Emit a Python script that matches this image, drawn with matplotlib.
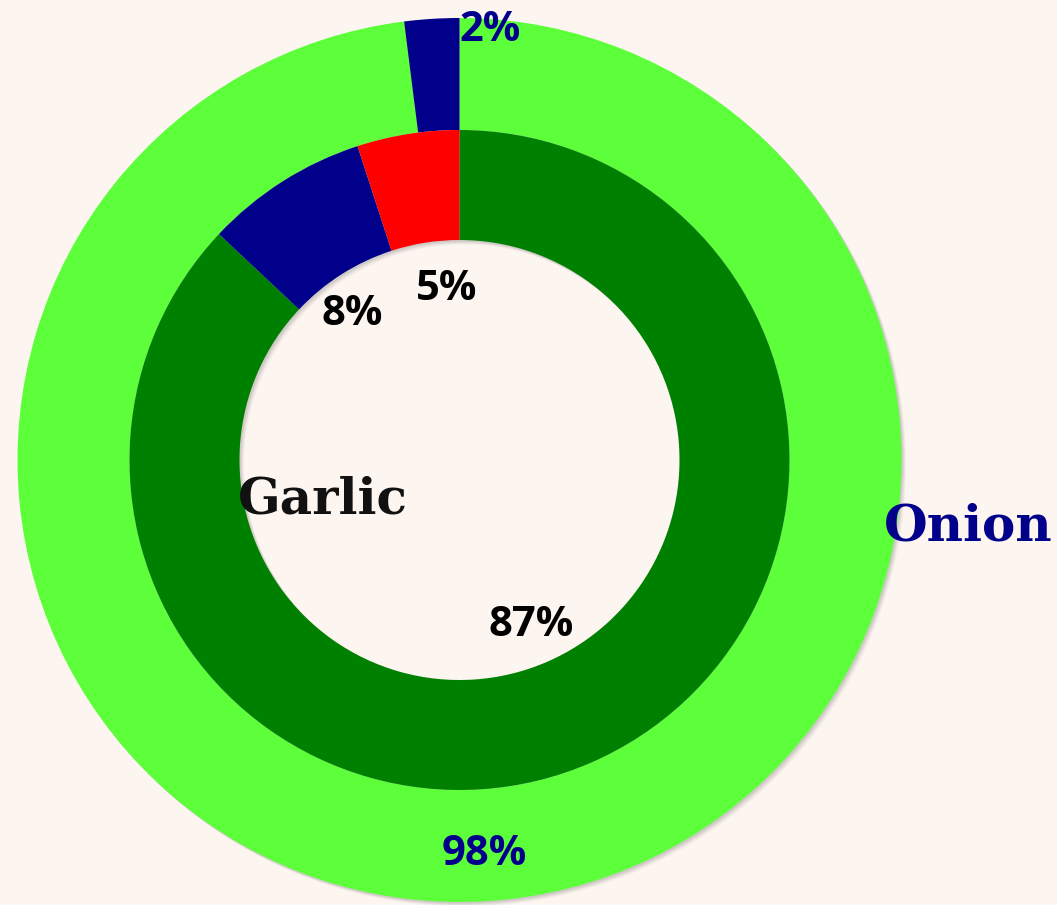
import matplotlib
matplotlib.use("Agg")
import matplotlib.pyplot as plt

# data
garlic_labels = ["Garlic A", "Garlic B", "Garlic C"]
garlic_values = [87, 8, 5]
garlic_colors = ["#008000", "#00008b", "#ff0000"]

onion_labels = ["Onion A", "Onion B"]
onion_values = [98, 2]
onion_colors = ["#5cff3a", "#00008b"]

bg = "#fdf5f0"
R_OUT = 1.0
R_MID = 330 / 442
R_IN = 220 / 442

fig = plt.figure(figsize=(10.57, 9.05), dpi=100, facecolor=bg)
ax = fig.add_axes([0, 0, 1, 1])
ax.set_facecolor(bg)

# soft shadow under both rings (offset down-right)
px = 1 / 442
for k, a in zip([1.5, 2.5, 3.5, 4.5], [0.10, 0.09, 0.07, 0.05]):
    ax.pie([sum(onion_values)], radius=R_OUT, colors=["#606060"],
           center=(k * px, -k * px), startangle=90, counterclock=False,
           wedgeprops=dict(width=R_OUT - R_IN, alpha=a, linewidth=0))

# outer ring: onion
w_out, _, t_out = ax.pie(onion_values, radius=R_OUT, colors=onion_colors,
                         startangle=90, counterclock=False,
                         autopct="%d%%", pctdistance=0.895,
                         wedgeprops=dict(width=R_OUT - R_MID, linewidth=0),
                         textprops=dict(color="#00008b", fontsize=30,
                                        fontweight="bold", family="Open Sans"))
# 2% label sits outside its slice, just right of the top
t_out[1].set_position((0.069, 0.972))

# inner ring: garlic
w_in, _, t_in = ax.pie(garlic_values, radius=R_MID, colors=garlic_colors,
                       startangle=90, counterclock=False,
                       autopct="%d%%", pctdistance=0.545,
                       wedgeprops=dict(width=R_MID - R_IN, linewidth=0),
                       textprops=dict(color="black", fontsize=30,
                                      fontweight="bold", family="Open Sans"))
# small nudges to match the original label placement
t_in[1].set_position((-0.243, 0.330))
t_in[2].set_position((-0.030, 0.385))

ax.text(-0.309, -0.12, "Garlic", ha="center", va="baseline",
        fontsize=36, fontweight="bold", family="DejaVu Serif", color="#111111")
ax.text(1.150, -0.183, "Onion", ha="center", va="baseline",
        fontsize=36, fontweight="bold", family="DejaVu Serif", color="#00008b")

ax.set_xlim(-459.5 / 442, 597.5 / 442)
ax.set_ylim(-445 / 442, 460 / 442)
ax.set_aspect("equal")
ax.axis("off")

fig.savefig("out.png", dpi=100, facecolor=bg)
